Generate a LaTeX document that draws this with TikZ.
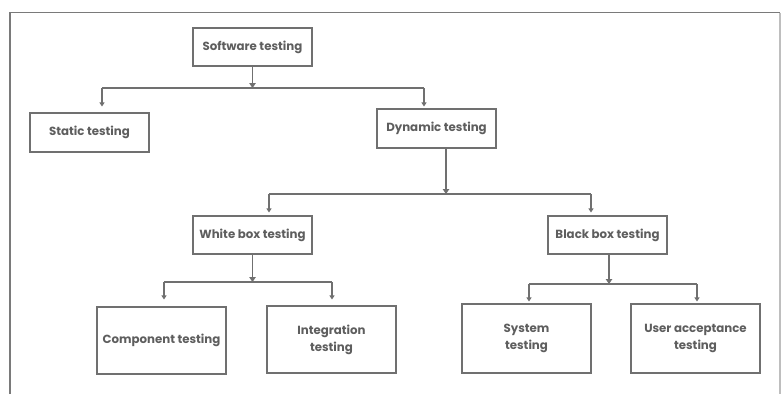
\documentclass[tikz,border=0pt]{standalone}
\usepackage{fontspec}
\setmainfont{Poppins}
\usetikzlibrary{arrows.meta}
\definecolor{linegrey}{HTML}{707070}
\definecolor{textgrey}{HTML}{5E5E5E}
\definecolor{framegrey}{HTML}{7A7A7A}
\definecolor{frameright}{HTML}{BEBEBE}
\tikzset{
  box/.style={draw=linegrey, line width=1.1pt, text=textgrey, align=center,
    font=\bfseries\fontsize{11.8}{17}\selectfont, inner sep=0pt},
  conn/.style={draw=linegrey, line width=1.2pt},
  bigarr/.style={conn, -{Triangle[length=5pt,width=6.5pt]}},
  smallarr/.style={conn, -{Triangle[length=4pt,width=5pt]}},
}
\begin{document}
\begin{tikzpicture}[x=1pt,y=-1pt]
\useasboundingbox (0,0) rectangle (781,394);
% frame
\draw[framegrey, line width=1.2pt] (10,394) -- (10,12.5) -- (780,12.5);
\draw[frameright, line width=1.2pt] (780,12.5) -- (780,394);
% nodes
\node[box, minimum width=119pt, minimum height=38pt] (sw) at (252.5,47) {Software testing};
\node[box, minimum width=119pt, minimum height=39pt] (st) at (89.5,132.5) {Static testing};
\node[box, minimum width=119pt, minimum height=39pt] (dy) at (436.5,128.5) {Dynamic testing};
\node[box, minimum width=119pt, minimum height=38pt] (wb) at (252.5,235) {White box testing};
\node[box, minimum width=119pt, minimum height=38pt] (bb) at (607.5,235) {Black box testing};
\node[box, minimum width=129pt, minimum height=67pt] (ct) at (161.5,340.5) {Component testing};
\node[box, minimum width=129pt, minimum height=67pt] (it) at (331.5,339.5) {Integration\\testing};
\node[box, minimum width=129pt, minimum height=69pt] (syt) at (526.5,338.5) {System\\testing};
\node[box, minimum width=129pt, minimum height=69pt] (uat) at (695.5,338.5) {User acceptance\\testing};
% junctions
\coordinate (j1) at (252.5,88);
\coordinate (j1l) at (102,88);
\coordinate (j1r) at (424,88);
\coordinate (j2) at (446,194);
\coordinate (j2l) at (269,194);
\coordinate (j2r) at (591,194);
\coordinate (j3) at (252.5,282);
\coordinate (j3l) at (164,282);
\coordinate (j3r) at (332,282);
\coordinate (j4) at (609,284);
\coordinate (j4l) at (529,284);
\coordinate (j4r) at (697,284);
% connectors level 1
\draw[bigarr] (sw.south) -- (j1);
\draw[conn] (j1l) -- (j1r);
\draw[smallarr, shorten >=6pt] (j1l) -- (j1l |- st.north);
\draw[smallarr, shorten >=2pt] (j1r) -- (j1r |- dy.north);
% level 2
\draw[bigarr] (j2 |- dy.south) -- (j2);
\draw[conn] (j2l) -- (j2r);
\draw[smallarr, shorten >=3pt] (j2l) -- (j2l |- wb.north);
\draw[smallarr, shorten >=3pt] (j2r) -- (j2r |- bb.north);
% level 3 white
\draw[bigarr] (j3 |- wb.south) -- (j3);
\draw[conn] (j3l) -- (j3r);
\draw[smallarr, shorten >=7pt] (j3l) -- (j3l |- ct.north);
\draw[smallarr, shorten >=6pt] (j3r) -- (j3r |- it.north);
% level 3 black
\draw[bigarr] (j4 |- bb.south) -- (j4);
\draw[conn] (j4l) -- (j4r);
\draw[smallarr, shorten >=2pt] (j4l) -- (j4l |- syt.north);
\draw[smallarr, shorten >=2pt] (j4r) -- (j4r |- uat.north);
\end{tikzpicture}
\end{document}
